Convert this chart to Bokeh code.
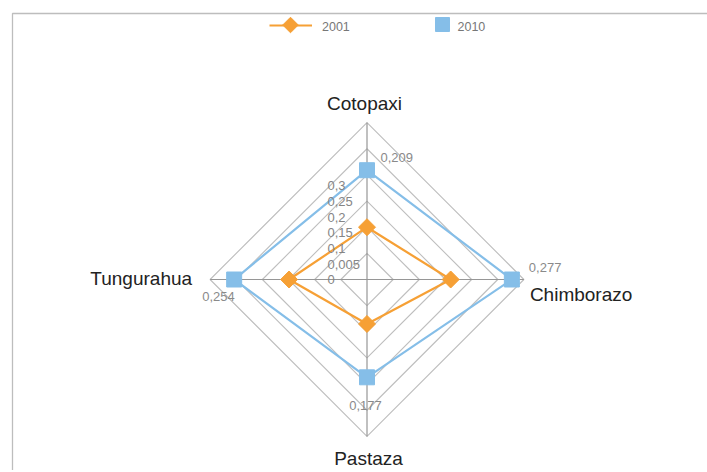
import numpy as np
from bokeh.plotting import figure
from bokeh.models import Range1d
from bokeh.core.properties import value
from bokeh.embed import file_html
from bokeh.resources import INLINE

# ---------------- data ----------------
categories = ["Cotopaxi", "Chimborazo", "Pastaza", "Tungurahua"]
series_names = ["2001", "2010"]
series_2001 = [0.100, 0.160, 0.085, 0.149]
series_2010 = [0.209, 0.277, 0.187, 0.254]
value_labels_2010 = ["0,209", "0,277", "0,177", "0,254"]
ring_values = [0.05, 0.10, 0.15, 0.20, 0.25, 0.30]
tick_labels = ["0", "0,005", "0,1", "0,15", "0,2", "0,25", "0,3"]

# ---------------- layout ----------------
W, H = 707, 470
OX, OY = 0, 0              # page offset of the canvas
CX, CY = 366.5, 279.0      # page px of radar centre
S = 523.0                  # px per unit value
FONT = value("Liberation Sans")
ORANGE = "#F6A035"
BLUE = "#85BEE8"


def px(x, y):
    """page pixel -> data coords"""
    return (x - CX) / S, (CY - y) / S


p = figure(width=W, height=H, output_backend="svg", toolbar_location=None,
           x_range=Range1d((OX - CX) / S, (OX + W - CX) / S),
           y_range=Range1d((CY - OY - H) / S, (CY - OY) / S),
           x_axis_type=None, y_axis_type=None, min_border=0,
           min_border_left=0, min_border_right=0, min_border_top=0, min_border_bottom=0)
p.outline_line_color = None
p.grid.visible = False
p.background_fill_color = "white"
p.border_fill_color = "white"

theta = np.array([np.pi / 2, 0.0, -np.pi / 2, np.pi])
cos_t, sin_t = np.cos(theta), np.sin(theta)

# frame border
bx0, by0 = px(12, 490)
bx1, by1 = px(12, 13)
bx2, by2 = px(720, 13)
p.line([bx0, bx1, bx2], [by0, by1, by2], line_color="#bdbdbd", line_width=1.3)

# rings
for r in ring_values:
    xs = list(r * cos_t) + [r * cos_t[0]]
    ys = list(r * sin_t) + [r * sin_t[0]]
    p.line(xs, ys, line_color="#bebebe", line_width=1.1)

# spokes
rmax = max(ring_values)
for c, s in zip(cos_t, sin_t):
    p.line([0, rmax * c], [0, rmax * s], line_color="#969696", line_width=1.2)

# series
for vals, col, kind in [(series_2001, ORANGE, "diamond"), (series_2010, BLUE, "square")]:
    v = np.array(vals)
    xs = v * cos_t
    ys = v * sin_t
    p.line(list(xs) + [xs[0]], list(ys) + [ys[0]], line_color=col, line_width=2.2)
    if kind == "diamond":
        p.scatter(xs, ys, marker="square", size=12, angle=np.pi / 4,
                  fill_color=col, line_color=col)
    else:
        p.scatter(xs, ys, marker="square", size=15, fill_color=col, line_color=col)

# tick labels (stacked at the centre as in the source)
for k, t in enumerate(tick_labels):
    p.text([0], [0], text=[t], x_offset=-39.5, y_offset=-k * 15.7 + 0.3,
           text_font=FONT, text_font_size="13px", text_color="#858585",
           text_align="left", text_baseline="middle")

# value labels for 2010
lab_off = [(13.5, -12.7, "left"), (17, -12.3, "left"), (-1.5, 28, "center"), (-32, 17, "left")]
for v, c, s, t, (dx, dy, al) in zip(series_2010, cos_t, sin_t, value_labels_2010, lab_off):
    p.text([v * c], [v * s], text=[t], x_offset=dx, y_offset=dy,
           text_font=FONT, text_font_size="13px", text_color="#8a8a8a",
           text_align=al, text_baseline="middle")

# category labels
cat_off = [(-2.5, -19, "center"), (6, 15, "left"), (1.5, 22, "center"), (-18, -1, "right")]
for c, s, t, (dx, dy, al) in zip(cos_t, sin_t, categories, cat_off):
    p.text([rmax * c], [rmax * s], text=[t], x_offset=dx, y_offset=dy,
           text_font=FONT, text_font_size="19px", text_color="#222222",
           text_align=al, text_baseline="middle")

# legend
lx0, ly = px(269, 25)
lx1, _ = px(311.5, 25)
p.line([lx0, lx1], [ly, ly], line_color=ORANGE, line_width=2.2)
dx_, dy_ = px(290, 24.5)
p.scatter([dx_], [dy_], marker="square", size=11, angle=np.pi / 4,
          fill_color=ORANGE, line_color=ORANGE)
sx_, sy_ = px(442, 24)
p.scatter([sx_], [sy_], marker="square", size=14, fill_color=BLUE, line_color=BLUE)
t1x, t1y = px(321.5, 25.5)
t2x, t2y = px(457, 25.5)
p.text([t1x, t2x], [t1y, t2y], text=series_names, text_font=FONT,
       text_font_size="12.5px", text_color="#777777",
       text_align="left", text_baseline="middle")

open("out.html", "w").write(file_html(p, INLINE))
